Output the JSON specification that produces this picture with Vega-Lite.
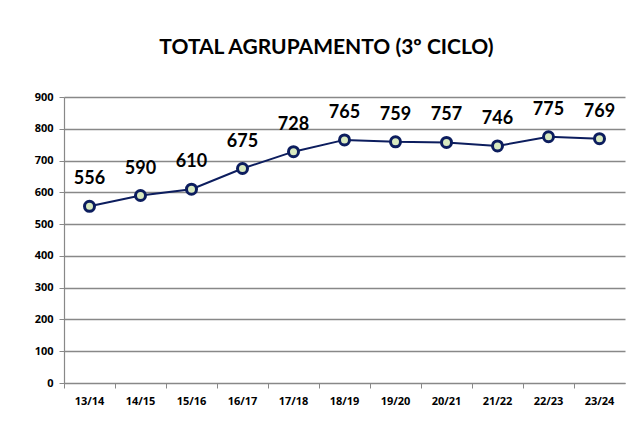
{
  "$schema": "https://vega.github.io/schema/vega-lite/v6.json",
  "autosize": "none",
  "width": 561,
  "height": 286,
  "padding": {"left": 64, "top": 97, "right": 15, "bottom": 43},
  "background": "white",
  "title": {
    "text": "TOTAL AGRUPAMENTO (3º CICLO)",
    "font": "Lato",
    "fontSize": 21,
    "fontWeight": "bold",
    "color": "#000000",
    "anchor": "middle",
    "dx": -18,
    "offset": 33
  },
  "data": {
    "values": [
      {"ano": "13/14", "total": 556},
      {"ano": "14/15", "total": 590},
      {"ano": "15/16", "total": 610},
      {"ano": "16/17", "total": 675},
      {"ano": "17/18", "total": 728},
      {"ano": "18/19", "total": 765},
      {"ano": "19/20", "total": 759},
      {"ano": "20/21", "total": 757},
      {"ano": "21/22", "total": 746},
      {"ano": "22/23", "total": 775},
      {"ano": "23/24", "total": 769}
    ]
  },
  "encoding": {
    "x": {
      "field": "ano",
      "type": "ordinal",
      "sort": null,
      "scale": {"type": "band", "paddingInner": 0, "paddingOuter": 0},
      "axis": {
        "title": null,
        "labelAngle": 0,
        "labelFont": "Open Sans",
        "labelFontSize": 11,
        "labelFontWeight": "bold",
        "labelColor": "#000000",
        "labelPadding": 7,
        "bandPosition": 0,
        "tickSize": 5,
        "tickColor": "#888888",
        "domainColor": "#888888",
        "domainWidth": 1.2,
        "grid": false
      }
    },
    "y": {
      "field": "total",
      "type": "quantitative",
      "scale": {"domain": [0, 900]},
      "axis": {
        "title": null,
        "values": [0, 100, 200, 300, 400, 500, 600, 700, 800, 900],
        "labelFont": "Open Sans",
        "labelFontSize": 11,
        "labelFontWeight": "bold",
        "labelColor": "#000000",
        "labelPadding": 6,
        "tickSize": 5,
        "tickColor": "#888888",
        "domainColor": "#888888",
        "domainWidth": 1.2,
        "gridColor": "#888888",
        "gridWidth": 1.3
      }
    }
  },
  "layer": [
    {
      "mark": {"type": "line", "color": "#0c1d5e", "strokeWidth": 2}
    },
    {
      "mark": {"type": "point", "filled": true, "fill": "#d9eac0", "stroke": "#0c1d5e", "strokeWidth": 3, "size": 100, "opacity": 1}
    },
    {
      "mark": {"type": "text", "font": "Lato", "fontSize": 18, "fontWeight": "bold", "color": "#000000", "dy": -27, "baseline": "middle"},
      "encoding": {"text": {"field": "total", "type": "quantitative"}}
    }
  ],
  "config": {"view": {"stroke": null}}
}
